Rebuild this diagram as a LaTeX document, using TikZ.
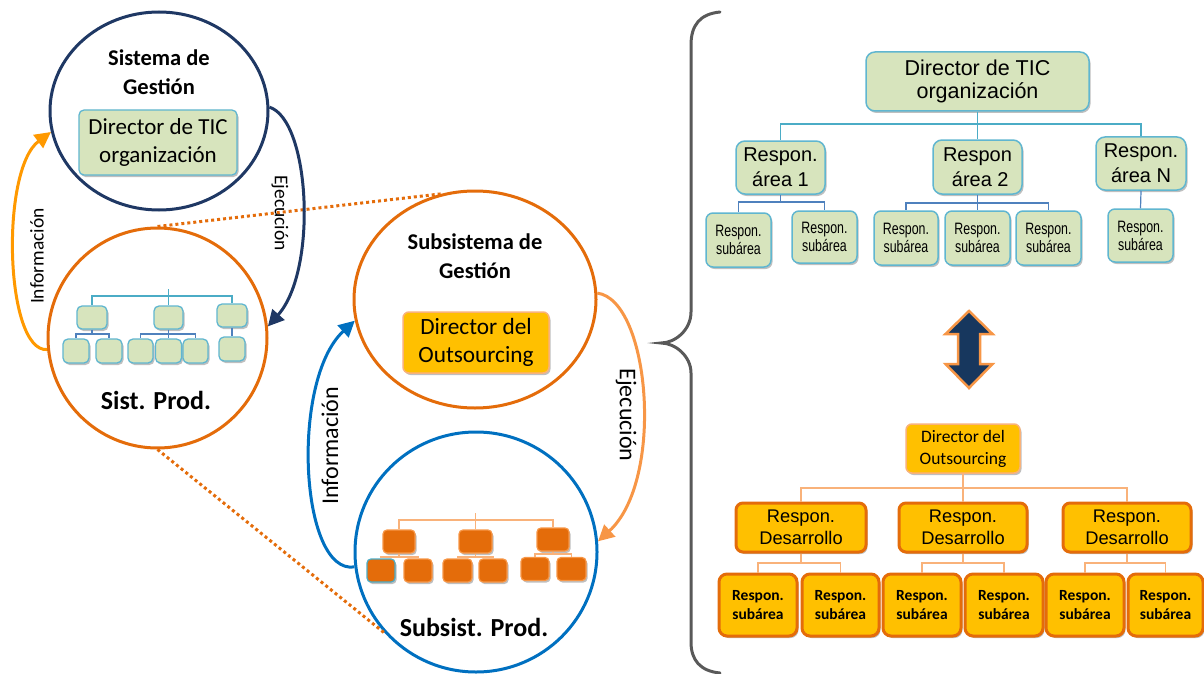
\documentclass[tikz,border=0pt]{standalone}
\usepackage{fontspec}
\setmainfont{Carlito}
\newfontfamily\arialf{Liberation Sans}
\newfontfamily\arialn[FakeStretch=0.75]{Liberation Sans}
\usetikzlibrary{shapes.geometric,arrows.meta,shadows}

\definecolor{navy}{RGB}{31,56,100}
\definecolor{orng}{RGB}{228,108,10}
\definecolor{amber}{RGB}{255,153,0}
\definecolor{lorng}{RGB}{247,150,70}
\definecolor{blu}{RGB}{0,112,192}
\definecolor{greenf}{RGB}{215,228,189}
\definecolor{tealb}{RGB}{96,182,208}
\definecolor{tline}{RGB}{75,172,198}
\definecolor{bline}{RGB}{79,129,189}
\definecolor{gold}{RGB}{255,192,0}
\definecolor{peach}{RGB}{249,178,122}
\definecolor{gray5}{RGB}{89,89,89}
\definecolor{darknavy}{RGB}{23,55,94}

\tikzset{
  shad/.style={drop shadow={shadow xshift=1.5pt,shadow yshift=-2pt,opacity=0.25,fill=black}},
  circ/.style={ellipse, draw=#1, line width=3pt, inner sep=0pt},
  arr/.style={draw=#1, line width=3pt, -{Triangle[length=16pt,width=16pt]}},
  dotl/.style={draw=orng, line width=3pt, dash pattern=on 3pt off 3pt},
  ttl/.style={align=center, font=\fontsize{22.5}{29}\selectfont\bfseries},
  prod/.style={font=\fontsize{26}{30}\selectfont\bfseries},
  lbl/.style={font=\fontsize{19.5}{22}\selectfont, inner sep=0pt},
  lblb/.style={font=\fontsize{24}{27}\selectfont, inner sep=0pt},
  gbox/.style={draw=tealb, fill=greenf, rounded corners=5pt, line width=1.3pt, inner sep=0pt, shad, align=center},
  obox/.style={draw=lorng, fill=orng, rounded corners=4pt, line width=1.2pt, inner sep=0pt, shad},
  tl/.style={draw=tline, line width=1.2pt},
  bl/.style={draw=bline, line width=1.2pt},
  pl/.style={draw=peach, line width=1.5pt},
  gbig/.style={draw=tealb, fill=greenf, rounded corners=9pt, line width=1.5pt, inner sep=0pt, shad, align=center},
  gsub/.style={gbig, rounded corners=7pt, font=\arialn\fontsize{16.5}{18}\selectfont},
  garea/.style={gbig, font=\arialf\fontsize{20}{25}\selectfont},
  ubox/.style={draw=peach, fill=gold, rounded corners=6pt, line width=1.5pt, inner sep=0pt, shad, align=center},
  dbox/.style={draw=orng, fill=gold, rounded corners=7pt, line width=3pt, inner sep=0pt, shad, align=center,
               font=\arialf\fontsize{18.3}{22}\selectfont},
  ebox/.style={dbox, rounded corners=8pt, font=\fontsize{15.5}{18.5}\selectfont\bfseries},
}

\begin{document}
\begin{tikzpicture}[x=1pt,y=-1pt]
\useasboundingbox (0,0) rectangle (1204,674);

% ---------- left: management system and production system ----------
\node[circ=navy, minimum width=218pt, minimum height=198pt] (sg) at (159,111) {};
\node[ttl] (sgt) at (159,72) {Sistema de\\Gestión};
\node[gbox, minimum width=158pt, minimum height=65pt, font=\fontsize{23}{28}\selectfont] (sgd) at (158,142.5) {Director de TIC\\organización};

\node[circ=orng, minimum width=219pt, minimum height=220pt] (sp) at (157.5,338) {};
\node[prod] (spt) at (156,400) {Sist. Prod.};

% small org chart (green)
\node[gbox, minimum width=30pt, minimum height=23pt] (g1) at (92,317.5) {};
\node[gbox, minimum width=29pt, minimum height=23pt] (g2) at (168.5,317.5) {};
\node[gbox, minimum width=30pt, minimum height=23pt] (g3) at (232,315.5) {};
\node[gbox, minimum width=26pt, minimum height=24pt] (g4) at (76,351) {};
\node[gbox, minimum width=26pt, minimum height=24pt] (g5) at (109,351) {};
\node[gbox, minimum width=25pt, minimum height=24pt] (g6) at (140.5,351) {};
\node[gbox, minimum width=26pt, minimum height=24pt] (g7) at (168.5,351) {};
\node[gbox, minimum width=25pt, minimum height=24pt] (g8) at (195.5,351) {};
\node[gbox, minimum width=26pt, minimum height=24pt] (g9) at (232,349) {};
\draw[tl] (g2.north) -- (g2.north |- 0,289);
\draw[tl] (g2.north |- 0,296) -| (g1.north);
\draw[tl] (g2.north |- 0,296) -| (g3.north);
\draw[bl] (g1.south) -- (g1.south |- 0,334) -| (g4.north);
\draw[bl] (g1.south |- 0,334) -| (g5.north);
\draw[bl] (g2.south) -- (g7.north);
\draw[bl] (g2.south |- 0,334) -| (g6.north);
\draw[bl] (g2.south |- 0,334) -| (g8.north);
\draw[bl] (g3.south) -- (g9.north);

% ---------- middle: outsourcing subsystems ----------
\node[circ=orng, minimum width=242pt, minimum height=217pt] (sm) at (475,299.5) {};
\node[ttl] (smt) at (475,256) {Subsistema de\\Gestión};
\node[ubox, minimum width=146pt, minimum height=61pt, font=\fontsize{23.3}{28}\selectfont] (smd) at (476,342.5) {Director del\\Outsourcing};

\node[circ=blu, minimum width=242pt, minimum height=240pt] (sb) at (476,552) {};
\node[prod] (sbt) at (474,627) {Subsist. Prod.};

% small org chart (orange)
\node[obox, minimum width=32pt, minimum height=23pt] (o1) at (399,541.5) {};
\node[obox, minimum width=33pt, minimum height=23pt] (o2) at (475.5,541.5) {};
\node[obox, minimum width=32pt, minimum height=23pt] (o3) at (553,539.5) {};
\node[obox, draw=tline, minimum width=28pt, minimum height=23pt] (o4) at (381,570.5) {};
\node[obox, minimum width=28pt, minimum height=23pt] (o5) at (418,570.5) {};
\node[obox, minimum width=29pt, minimum height=23pt] (o6) at (457.5,570.5) {};
\node[obox, minimum width=28pt, minimum height=23pt] (o7) at (493,570.5) {};
\node[obox, minimum width=28pt, minimum height=23pt] (o8) at (535,569) {};
\node[obox, minimum width=29pt, minimum height=23pt] (o9) at (571.5,569) {};
\draw[pl] (o2.north) -- (o2.north |- 0,513);
\draw[pl] (o2.north |- 0,520) -| (o1.north);
\draw[pl] (o2.north |- 0,520) -| (o3.north);
\draw[pl] (o1.south) -- (o1.south |- 0,557) -| (o4.north);
\draw[pl] (o1.south |- 0,557) -| (o5.north);
\draw[pl] (o2.south) -- (o2.south |- 0,557) -| (o6.north);
\draw[pl] (o2.south |- 0,557) -| (o7.north);
\draw[pl] (o3.south) -- (o3.south |- 0,554) -| (o8.north);
\draw[pl] (o3.south |- 0,554) -| (o9.north);

% ---------- connectors between systems ----------
\draw[dotl] (sp.north) -- (sm.108);
\draw[dotl] (sp.south) -- (sb.222);

\draw[arr=amber] (sp.186) .. controls (5,352) and (0,170) .. (sg.191);
\draw[arr=navy] (sg.2) .. controls (310,120) and (318,270) .. (sp.6);
\draw[arr=blu] (sb.187) .. controls (300,575) and (290,380) .. (sm.190);
\draw[arr=lorng] (sm.3) .. controls (650,300) and (665,480) .. (sb.5);

\node[lbl, rotate=90] (l1) at (37,256) {Información};
\node[lbl, rotate=-90] (l2) at (280,213) {Ejecución};
\node[lblb, rotate=90] (l3) at (330,446) {Información};
\node[lblb, rotate=-90] (l4) at (626,415) {Ejecución};

% ---------- brace ----------
\draw[gray5, line width=3pt, line cap=round]
  (720,12) .. controls (700,14) and (691,25) .. (691,45) -- (691,312)
  .. controls (691,330) and (675,343) .. (661,343)
  .. controls (675,343) and (691,356) .. (691,373) -- (691,642)
  .. controls (691,660) and (700,671) .. (720,673);

% ---------- right top: organisation ----------
\node[gbig, minimum width=223pt, minimum height=59pt, font=\arialf\fontsize{21.5}{23}\selectfont] (T0) at (977.5,81.5) {Director de TIC\\organización};
\node[garea, minimum width=89pt, minimum height=53pt] (A1) at (780.5,167.5) {Respon.\\área 1};
\node[garea, minimum width=89pt, minimum height=54pt] (A2) at (977.5,167) {Respon\\\ área 2};
\node[garea, minimum width=90pt, minimum height=53pt] (AN) at (1141,163.5) {Respon.\\área N};
\node[gsub, minimum width=65pt, minimum height=54pt] (s1) at (738.5,240) {Respon.\\subárea};
\node[gsub, minimum width=65pt, minimum height=52pt] (s2) at (824.5,237) {Respon.\\subárea};
\node[gsub, minimum width=64pt, minimum height=54pt] (s3) at (906,238) {Respon.\\subárea};
\node[gsub, minimum width=65pt, minimum height=54pt] (s4) at (977.5,238) {Respon.\\subárea};
\node[gsub, minimum width=65pt, minimum height=54pt] (s5) at (1048.5,238) {Respon.\\subárea};
\node[gsub, minimum width=65pt, minimum height=53pt] (s6) at (1140.5,235.5) {Respon.\\subárea};
\draw[tl] (T0.south) -- (T0.south |- 0,124) -| (A1.north);
\draw[tl] (T0.south |- 0,124) -- (A2.north);
\draw[tl] (T0.south |- 0,124) -| (AN.north);
\draw[bl] (A1.south) -- (A1.south |- 0,202) -| (s1.north);
\draw[bl] (A1.south |- 0,202) -| (s2.north);
\draw[bl] (A2.south) -- (s4.north);
\draw[bl] (A2.south |- 0,203) -| (s3.north);
\draw[bl] (A2.south |- 0,203) -| (s5.north);
\draw[bl] (AN.south) -- (s6.north);

% ---------- double arrow ----------
\fill[darknavy, draw=lorng, line width=2.5pt, line join=miter]
  (969,311) -- (992.5,334) -- (980,334) -- (980,364) -- (992.5,364) -- (969,388)
  -- (945.5,364) -- (958,364) -- (958,334) -- (945.5,334) -- cycle;

% ---------- right bottom: outsourcing ----------
\node[ubox, minimum width=114pt, minimum height=49pt, font=\fontsize{17.5}{22}\selectfont] (U0) at (963,448.5) {Director del\\Outsourcing};
\node[dbox, minimum width=130pt, minimum height=49pt] (D1) at (801,527.5) {Respon.\\Desarrollo};
\node[dbox, minimum width=128pt, minimum height=49pt] (D2) at (963,527.5) {Respon.\\Desarrollo};
\node[dbox, minimum width=128pt, minimum height=49pt] (D3) at (1127,527.5) {Respon.\\Desarrollo};
\node[ebox, minimum width=78pt, minimum height=62pt] (e1) at (758,605) {Respon.\\subárea};
\node[ebox, minimum width=77pt, minimum height=62pt] (e2) at (840.5,605) {Respon.\\subárea};
\node[ebox, minimum width=78pt, minimum height=62pt] (e3) at (922,605) {Respon.\\subárea};
\node[ebox, minimum width=78pt, minimum height=62pt] (e4) at (1004,605) {Respon.\\subárea};
\node[ebox, minimum width=78pt, minimum height=62pt] (e5) at (1085,605) {Respon.\\subárea};
\node[ebox, minimum width=75pt, minimum height=62pt] (e6) at (1165.5,605) {Respon.\\subárea};
\draw[pl] (U0.south) -- (U0.south |- 0,488) -| (D1.north);
\draw[pl] (U0.south |- 0,488) -- (D2.north);
\draw[pl] (U0.south |- 0,488) -| (D3.north);
\draw[pl] (D1.south) -- (D1.south |- 0,563) -| (e1.north);
\draw[pl] (D1.south |- 0,563) -| (e2.north);
\draw[pl] (D2.south) -- (D2.south |- 0,563) -| (e3.north);
\draw[pl] (D2.south |- 0,563) -| (e4.north);
\draw[pl] (D3.south) -- (D3.south |- 0,563) -| (e5.north);
\draw[pl] (D3.south |- 0,563) -| (e6.north);
\end{tikzpicture}
\end{document}
